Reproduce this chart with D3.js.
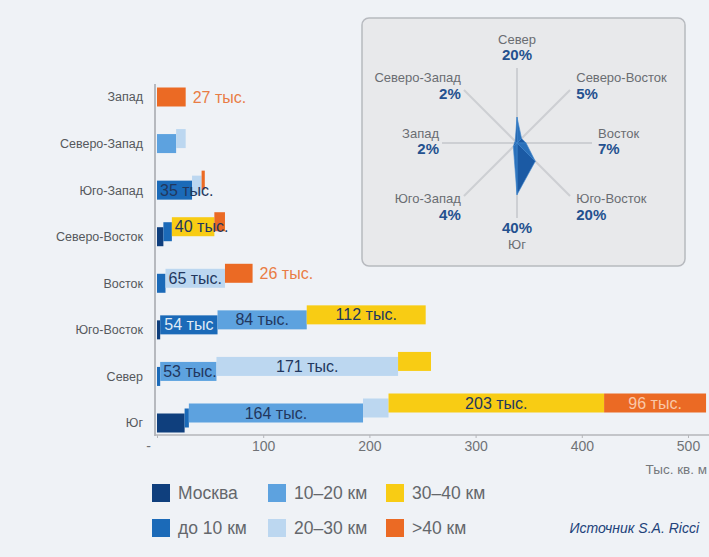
<!DOCTYPE html>
<html>
<head>
<meta charset="utf-8">
<script src="https://cdn.jsdelivr.net/npm/d3@7"></script>
<style>
  body { margin: 0; background: #eff2f6; }
  svg { display: block; font-family: "Liberation Sans", Arial, sans-serif; }
</style>
</head>
<body>
<svg id="drawing_region"></svg>
<script>
// regions, top to bottom
var regions = ['Запад', 'Северо-Запад', 'Юго-Запад', 'Северо-Восток', 'Восток', 'Юго-Восток', 'Север', 'Юг'];
var seriesNames = ['Москва', 'до 10 км', '10–20 км', '20–30 км', '30–40 км', '>40 км'];
var seriesColors = ['#0f3f7d', '#1b6ab8', '#5da2df', '#bcd7f0', '#f8cc14', '#eb6a24'];

// тыс. кв. м
var moscow  = [0, 0, 0, 6, 0, 3, 0, 26];
var upTo10  = [0, 0, 33, 8, 8, 54, 3, 4];
var km10_20 = [0, 18, 0, 0, 0, 84, 53, 164];
var km20_30 = [0, 9, 9, 0, 56, 0, 171, 24];
var km30_40 = [0, 0, 0, 40, 0, 112, 31, 203];
var over40  = [27, 0, 3, 10, 26, 0, 0, 96];

var xTicks = [0, 100, 200, 300, 400, 500];

// printed values: region, series, text
var barLabels = [
  ['Запад', '>40 км', '27 тыс.'],
  ['Юго-Запад', 'до 10 км', '35 тыс.'],
  ['Северо-Восток', '30–40 км', '40 тыс.'],
  ['Восток', '20–30 км', '65 тыс.'],
  ['Восток', '>40 км', '26 тыс.'],
  ['Юго-Восток', 'до 10 км', '54 тыс'],
  ['Юго-Восток', '10–20 км', '84 тыс.'],
  ['Юго-Восток', '30–40 км', '112 тыс.'],
  ['Север', '10–20 км', '53 тыс.'],
  ['Север', '20–30 км', '171 тыс.'],
  ['Юг', '10–20 км', '164 тыс.'],
  ['Юг', '30–40 км', '203 тыс.'],
  ['Юг', '>40 км', '96 тыс.']
];

// inset: share of total, %
var radarNames  = ['Север', 'Северо-Восток', 'Восток', 'Юго-Восток', 'Юг', 'Юго-Запад', 'Запад', 'Северо-Запад'];
var radarShares = [20, 5, 7, 20, 40, 4, 2, 2];

var svg = d3.select('#drawing_region')
    .attr('width', 709)
    .attr('height', 557);

svg.append('rect')
    .attr('width', 709).attr('height', 557)
    .attr('fill', '#eff2f6');

class BarChart {
  constructor( config, table ) {
    this.config = config;
    this.table = table;
    this.init();
  }

  init() {
    let self = this;
    self.chart = svg.append('g');

    self.xScale = d3.scaleLinear()
        .domain([0, 500])
        .range([157, 688]);

    self.yScale = d3.scalePoint()
        .domain(regions)
        .range([97, 423]);

    self.stack = d3.stack().keys(seriesNames);
  }

  render() {
    let self = this;
    const x = self.xScale, y = self.yScale;
    const barH = 19;
    const layers = self.stack(self.table);

    // each following segment of a row sits a bit higher
    const segments = [];
    layers.forEach((layer, j) => {
      layer.forEach(d => {
        const row = d.data;
        if (row[seriesNames[j]] <= 0) return;
        let k = 0;
        for (let m = 0; m < j; m++) if (row[seriesNames[m]] > 0) k++;
        segments.push({
          region: row.region, series: seriesNames[j], color: seriesColors[j],
          x0: d[0], x1: d[1], lift: Math.min(k * 5, 20)
        });
      });
    });

    self.chart.selectAll('rect.seg')
        .data(segments)
        .enter()
        .append('rect')
        .attr('class', 'seg')
        .attr('x', d => x(d.x0))
        .attr('width', d => x(d.x1) - x(d.x0))
        .attr('y', d => y(d.region) - barH / 2 - d.lift)
        .attr('height', barH)
        .attr('fill', d => d.color);

    // axes
    self.chart.append('line')
        .attr('x1', 155).attr('x2', 155)
        .attr('y1', 84).attr('y2', 436)
        .attr('stroke', '#a3a6ab').attr('stroke-width', 1.5);
    self.chart.append('line')
        .attr('x1', 155).attr('x2', 709)
        .attr('y1', 435).attr('y2', 435)
        .attr('stroke', '#b4b6ba').attr('stroke-width', 1.5);

    const xAxis = self.chart.append('g')
        .attr('transform', 'translate(0,435)')
        .call(d3.axisBottom(x).tickValues(xTicks).tickSize(3)
          .tickFormat(d => d === 0 ? '-' : d));
    xAxis.select('.domain').remove();
    xAxis.selectAll('line').attr('stroke', '#b4b6ba');
    xAxis.selectAll('text')
        .attr('fill', '#6f7276')
        .attr('font-size', 14)
        .attr('dx', d => d === 0 ? -9 : 0);

    self.chart.append('text')
        .attr('x', 707).attr('y', 474)
        .attr('text-anchor', 'end')
        .attr('fill', '#75787c')
        .attr('font-size', 13.5)
        .text('Тыс. кв. м');

    // category names
    self.chart.selectAll('text.cat')
        .data(regions)
        .enter()
        .append('text')
        .attr('class', 'cat')
        .attr('x', 143)
        .attr('y', d => y(d))
        .attr('dy', '0.35em')
        .attr('text-anchor', 'end')
        .attr('fill', '#55585c')
        .attr('font-size', 12.5)
        .text(d => d);

    // printed values
    barLabels.forEach(lb => {
      const seg = segments.find(s => s.region === lb[0] && s.series === lb[1]);
      if (!seg) return;
      const t = self.chart.append('text')
          .attr('y', y(seg.region) - seg.lift)
          .attr('dy', '0.35em')
          .attr('font-size', 16)
          .text(lb[2]);
      const tw = t.node().getComputedTextLength();
      const w = x(seg.x1) - x(seg.x0);
      if (tw + 6 <= w) {
        t.attr('x', (x(seg.x0) + x(seg.x1)) / 2)
         .attr('text-anchor', 'middle')
         .attr('fill', seg.series === 'до 10 км' ? '#dfeaf6'
                     : seg.series === '>40 км' ? '#f9c8a8' : '#22375e');
      } else if (seg.series === '>40 км') {
        t.attr('x', x(seg.x1) + 7).attr('fill', '#e97c44');
      } else {
        t.attr('x', x(seg.x0) + 3).attr('fill', '#22375e');
      }
    });
  }
}

class RadarChart {
  constructor( config, names, shares ) {
    this.config = config;
    this.names = names;
    this.shares = shares;
    this.init();
  }

  init() {
    let self = this;
    const c = self.config;
    self.box = svg.append('rect')
        .attr('x', c.left).attr('y', c.top)
        .attr('width', c.width).attr('height', c.height)
        .attr('rx', 7)
        .attr('fill', '#e8e9eb')
        .attr('stroke', '#b7babf')
        .attr('stroke-width', 1.5);
    self.chart = svg.append('g')
        .attr('transform', `translate(${c.cx}, ${c.cy})`);
    self.rScale = d3.scaleLinear().domain([0, 58]).range([0, c.radius]);
    self.angle = i => -Math.PI / 2 + i * Math.PI / 4;
  }

  render() {
    let self = this;
    const R = self.config.radius;
    const n = self.names.length;
    const idx = d3.range(n);

    self.chart.selectAll('line.spoke')
        .data(idx)
        .enter()
        .append('line')
        .attr('class', 'spoke')
        .attr('x1', 0).attr('y1', 0)
        .attr('x2', i => R * Math.cos(self.angle(i)))
        .attr('y2', i => R * Math.sin(self.angle(i)))
        .attr('stroke', '#cdcfd3')
        .attr('stroke-width', 2);

    const pt = i => {
      const r = self.rScale(self.shares[i % n]);
      return [r * Math.cos(self.angle(i)), r * Math.sin(self.angle(i))];
    };

    // faceted shape
    self.chart.selectAll('path.facet')
        .data(idx)
        .enter()
        .append('path')
        .attr('class', 'facet')
        .attr('d', i => 'M0,0L' + pt(i) + 'L' + pt(i + 1) + 'Z')
        .attr('fill', i => i % 2 ? '#1b5aa4' : '#2a70ba')
        .attr('stroke', '#3f86cc')
        .attr('stroke-width', 0.6);

    // labels
    idx.forEach(i => {
      const a = self.angle(i);
      const cs = Math.round(Math.cos(a) * 100) / 100;
      const sn = Math.round(Math.sin(a) * 100) / 100;
      const ex = R * cs, ey = R * sn;
      const anchor = cs > 0.1 ? 'start' : cs < -0.1 ? 'end' : 'middle';
      const tx = ex + (cs > 0.1 ? 6 : cs < -0.1 ? -3 : 0);
      let lines = [[self.names[i], 'name'], [self.shares[i] + '%', 'pct']];
      let cy;
      if (sn < -0.9) cy = ey - 21;
      else if (sn > 0.9) { cy = ey + 18; lines.reverse(); }
      else if (Math.abs(sn) > 0.1) cy = ey + 10 * sn + 3;
      else cy = ey - 2;
      lines.forEach((ln, k) => {
        self.chart.append('text')
            .attr('x', tx)
            .attr('y', cy + (k - 0.5) * 16)
            .attr('dy', '0.35em')
            .attr('text-anchor', anchor)
            .attr('font-size', ln[1] === 'pct' ? 15 : 13)
            .attr('font-weight', ln[1] === 'pct' ? 'bold' : 'normal')
            .attr('fill', ln[1] === 'pct' ? '#24518f' : '#6a6d72')
            .text(ln[0]);
      });
    });
  }
}

function drawLegend() {
  const colX = [152, 268, 386];
  const rowY = [484, 519];
  const g = svg.append('g');
  seriesNames.forEach((s, j) => {
    const col = Math.floor(j / 2), row = j % 2;
    g.append('rect')
        .attr('x', colX[col]).attr('y', rowY[row])
        .attr('width', 18).attr('height', 18)
        .attr('fill', seriesColors[j]);
    g.append('text')
        .attr('x', colX[col] + 26).attr('y', rowY[row] + 9)
        .attr('dy', '0.35em')
        .attr('font-size', 17.5)
        .attr('fill', '#64676b')
        .text(s);
  });
  g.append('text')
      .attr('x', 699).attr('y', rowY[1] + 9)
      .attr('dy', '0.35em')
      .attr('text-anchor', 'end')
      .attr('font-size', 14)
      .attr('font-style', 'italic')
      .attr('fill', '#22427a')
      .text('Источник S.A. Ricci');
}

var seriesArrays = [moscow, upTo10, km10_20, km20_30, km30_40, over40];
var table = regions.map((r, i) => {
  const row = { region: r };
  seriesNames.forEach((s, j) => { row[s] = seriesArrays[j][i]; });
  return row;
});

const barchart = new BarChart( {}, table );
barchart.render();

const radar = new RadarChart( {
  left: 362, top: 18, width: 323, height: 248,
  cx: 517, cy: 143, radius: 75
}, radarNames, radarShares );
radar.render();

drawLegend();
</script>
</body>
</html>
